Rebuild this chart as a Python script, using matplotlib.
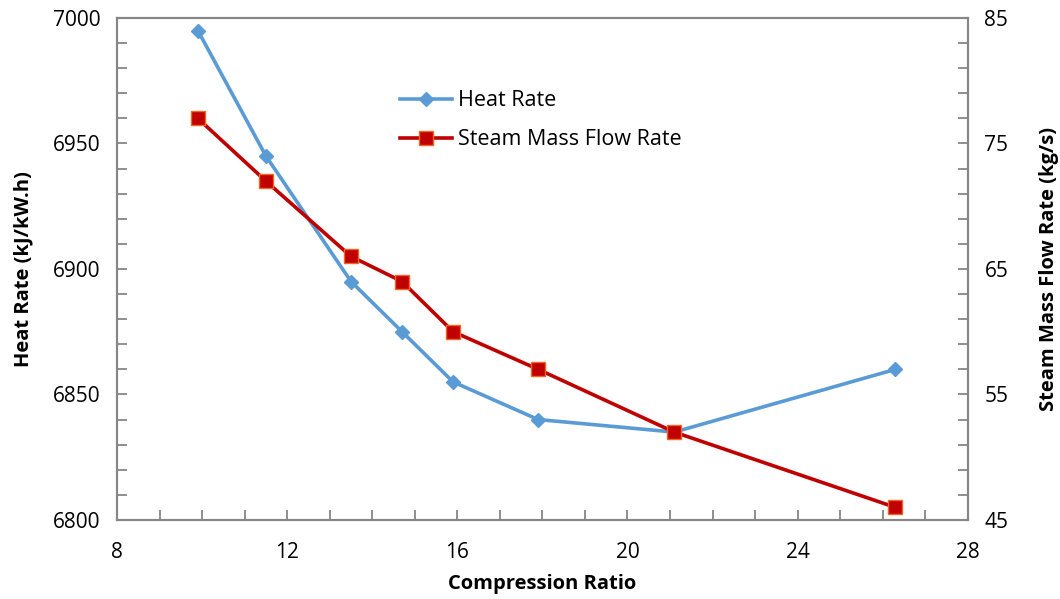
import matplotlib.pyplot as plt
from matplotlib.ticker import MultipleLocator

plt.rcParams['font.family'] = ['Open Sans', 'DejaVu Sans']

# data
ratio = [9.9, 11.5, 13.5, 14.7, 15.9, 17.9, 21.1, 26.3]
heat_rate = [6995, 6945, 6895, 6875, 6855, 6840, 6835, 6860]
steam_flow = [77, 72, 66, 64, 60, 57, 52, 46]

blue = '#5B9BD5'
red = '#C00000'
grey = '#868686'

fig = plt.figure(figsize=(10.6, 5.99), dpi=100)
ax = fig.add_axes([0.1104, 0.132, 0.8026, 0.838])
ax2 = ax.twinx()

l1, = ax.plot(ratio, heat_rate, color=blue, lw=2.6, marker='D', ms=7,
              mfc=blue, mec=blue, label='Heat Rate')
l2, = ax2.plot(ratio, steam_flow, color=red, lw=2.6, marker='s', ms=10,
               mfc=red, mec='#F26522', mew=1.0, label='Steam Mass Flow Rate')

ax.set_xlim(8, 28)
ax.set_ylim(6800, 7000)
ax2.set_ylim(45, 85)

ax.xaxis.set_major_locator(MultipleLocator(4))
ax.xaxis.set_minor_locator(MultipleLocator(1))
ax.yaxis.set_major_locator(MultipleLocator(50))
ax.yaxis.set_minor_locator(MultipleLocator(10))
ax2.set_yticks(range(45, 86, 10))
ax2.set_yticks(range(45, 86, 2), minor=True)

for a in (ax, ax2):
    for s in a.spines.values():
        s.set_color(grey)
        s.set_linewidth(1.5)
    a.tick_params(which='both', direction='in', length=7, width=1.3,
                  color=grey, labelsize=15, pad=12)

ax.tick_params(axis='x', which='both', top=False, pad=16)

ax.set_xlabel('Compression Ratio', fontsize=14.5, fontweight='bold', labelpad=8)
ax.set_ylabel('Heat Rate (kJ/kW.h)', fontsize=14.5, fontweight='bold', labelpad=14)
ax2.set_ylabel('Steam Mass Flow Rate (kg/s)', fontsize=14.5, fontweight='bold', labelpad=22)

ax.legend(handles=[l1, l2], loc='upper left', bbox_to_anchor=(0.31, 0.895),
          frameon=False, fontsize=15.5, handlelength=2.4, labelspacing=0.85,
          handletextpad=0.3)

fig.savefig('out.png', dpi=100)
